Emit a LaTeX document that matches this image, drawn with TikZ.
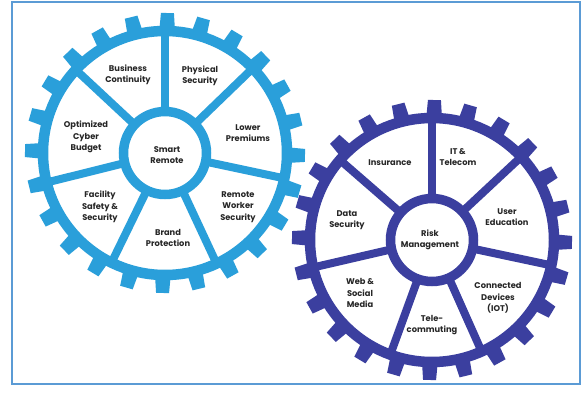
\documentclass[tikz,border=0pt]{standalone}
\usepackage{fontspec}
\setmainfont{Poppins}
\definecolor{lightgear}{HTML}{2A9FDA}
\definecolor{darkgear}{HTML}{3B3F9F}
\definecolor{framecol}{HTML}{5B9BD5}
\definecolor{txt}{HTML}{262626}
\tikzset{
  lbl/.style={align=center, text=txt, font=\fontsize{8.3}{11.4}\selectfont\bfseries, inner sep=0pt},
  ringline/.style={line width=10.5pt},
  spokeline/.style={line width=8pt},
  hubline/.style={line width=9.5pt, fill=white},
}
\newcommand{\gearshape}[3]{% center, color, spoke angles
  \begin{scope}[shift={#1}, yscale=-1, #2]
    \foreach \a in {0,15,...,345}{
      \fill[rotate=\a+1] (123,-7.8) -- (140,-6.5) -- (140,6.5) -- (123,7.8) -- cycle;
    }
    \draw[ringline] (0,0) circle (122);
    \foreach \a in {#3}{
      \draw[spokeline] (\a:40) -- (\a:120);
    }
    \draw[hubline] (0,0) circle (41.5);
  \end{scope}
}
\begin{document}
\begin{tikzpicture}[x=1pt,y=-1pt]
\useasboundingbox (0,0) rectangle (584,396);
\fill[white] (0,0) rectangle (584,396);
\draw[framecol, line width=2pt] (12,2) rectangle (580,384);

\gearshape{(165,153)}{lightgear}{90,44,-12,-65,-116,-166,137}
\gearshape{(432,240)}{darkgear}{90,43,-12,-66,-110,-167,139}

% left gear labels
\node[lbl] (hubL) at (167,155) {Smart\\Remote};
\node[lbl] (bc) at (128,75) {Business\\Continuity};
\node[lbl] (ps) at (200,76) {Physical\\Security};
\node[lbl] (lp) at (248,133) {Lower\\Premiums};
\node[lbl] (rw) at (238,207) {Remote\\Worker\\Security};
\node[lbl] (bp) at (168,238) {Brand\\Protection};
\node[lbl] (fs) at (100,207) {Facility\\Safety \&\\Security};
\node[lbl] (oc) at (86,137) {Optimized\\Cyber\\Budget};

% right gear labels
\node[lbl] (hubR) at (430,240) {Risk\\Management};
\node[lbl] (ins) at (390,163) {Insurance};
\node[lbl] (it) at (458,157) {IT \&\\Telecom};
\node[lbl] (ue) at (507,217) {User\\Education};
\node[lbl] (cd) at (498,298) {Connected\\Devices\\(IOT)};
\node[lbl] (tc) at (432,325) {Tele-\\commuting};
\node[lbl] (ws) at (360,293) {Web \&\\Social\\Media};
\node[lbl] (ds) at (347,220) {Data\\Security};
\end{tikzpicture}
\end{document}
